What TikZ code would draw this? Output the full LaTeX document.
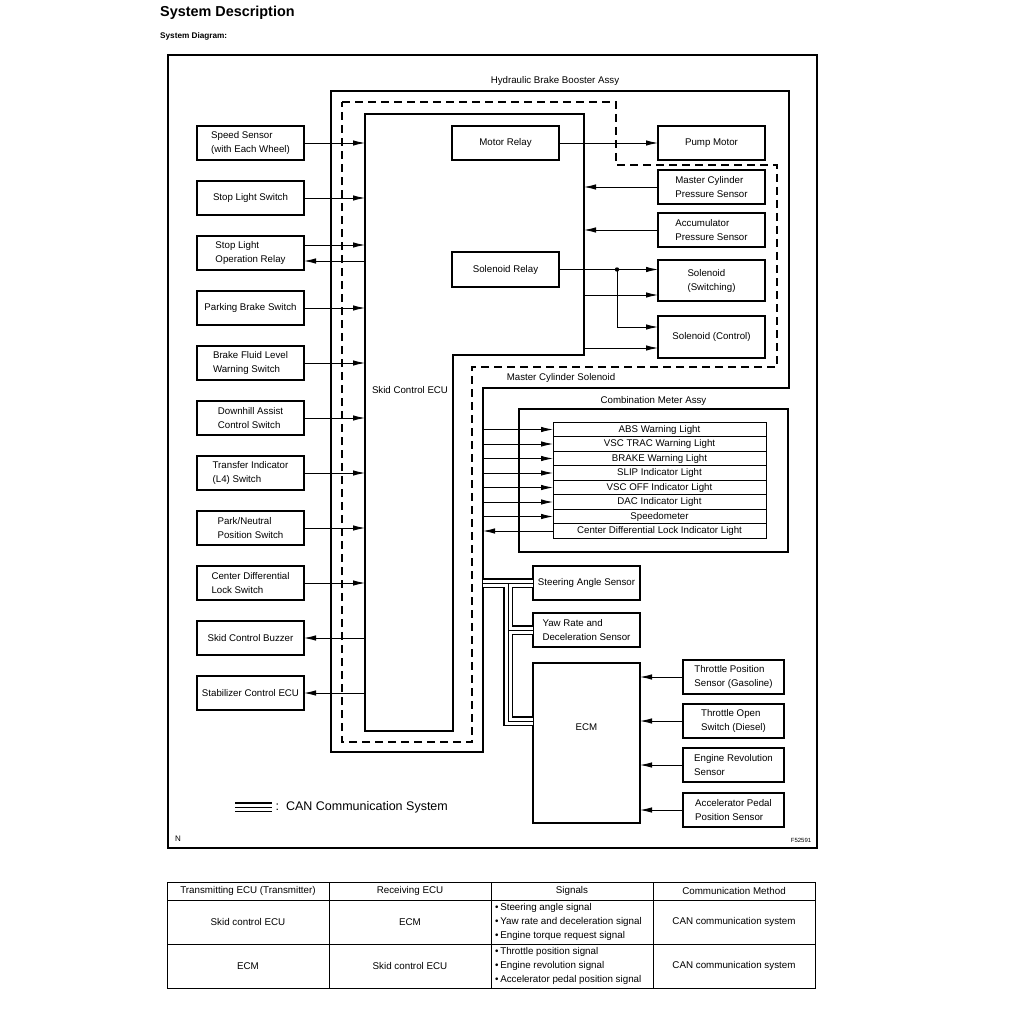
\documentclass[tikz,border=0pt]{standalone}
\usepackage{fontspec}
\setmainfont{Liberation Sans}
\usetikzlibrary{calc, positioning, arrows.meta}

\tikzset{
    box/.style={draw, rectangle, line width=1.5pt, minimum width=107pt, minimum height=34pt, inner sep=2pt, outer sep=0pt, align=left},
    sens/.style={box, minimum width=101pt},
    lamp/.style={draw, rectangle, line width=0.9pt, minimum width=213pt, minimum height=14.5pt, inner sep=0pt, outer sep=0pt},
    sig/.style={->, line width=0.9pt},
    can/.style={line width=10pt, postaction={draw=white, line width=7pt}, postaction={draw=black, line width=1pt}},
    assy/.style={line width=1.8pt},
    ecu/.style={line width=2.2pt},
    grp/.style={line width=1.3pt, dash pattern=on 8pt off 5pt},
    cell/.style={inner sep=0pt, font=\fontsize{9.8}{14}\selectfont, align=left},
}

\begin{document}
\begin{tikzpicture}[x=1pt, y=-1pt, >={Latex[length=12pt,width=5.5pt]}, font=\fontsize{9.7}{14}\selectfont]
    \useasboundingbox (0,0) rectangle (1024,1024);

    \node[anchor=west, inner sep=0pt, font=\bfseries\fontsize{14.4}{17}\selectfont] (title) at (160,13) {System Description};
    \node[anchor=west, inner sep=0pt, font=\bfseries\fontsize{8.2}{10}\selectfont] (sub) at (160,36) {System Diagram:};

    \draw[line width=1.3pt] (168,55) rectangle (817,848);

    \coordinate (hbbL) at (483,388);
    \coordinate (ecuL) at (365,114);
    \coordinate (ecuR) at (584,114);

    \draw[assy] (331,91) -- (789,91) -- (789,388) -- (hbbL) -- (483,752) -- (331,752) -- cycle;
    \draw[grp] (342,102) -- (616,102) -- (616,165) -- (777,165) -- (777,367) -- (472,367) -- (472,742) -- (342,742) -- cycle;
    \draw[ecu] (ecuL) -- (ecuR) -- (584,355) -- (453,355) -- (453,731) -- (365,731) -- cycle;

    \node (HBB) at (555,81) {Hydraulic Brake Booster Assy};
    \node (MCS) at (561,378) {Master Cylinder Solenoid};
    \node (ECU) at (410,390) {Skid Control ECU};

    \node[box] (MR) at (505.5,143) {Motor Relay};
    \node[box, minimum height=35pt] (SR) at (505.5,269.5) {Solenoid Relay};

    \node[box] (PM) at (711.5,143) {Pump Motor};
    \node[box] (MCPS) at (711.5,187) {Master Cylinder\\Pressure Sensor};
    \node[box] (ACC) at (711.5,230) {Accumulator\\Pressure Sensor};
    \node[box, minimum height=41pt] (SOLSW) at (711.5,280.5) {Solenoid\\(Switching)};
    \node[box, minimum height=42pt] (SOLCT) at (711.5,337) {Solenoid (Control)};

    \node[box] (SS) at (250.5,143) {Speed Sensor\\(with Each Wheel)};
    \node[box, below=21pt of SS] (SLS) {Stop Light Switch};
    \node[box, below=21pt of SLS] (SLR) {Stop Light\\Operation Relay};
    \node[box, below=21pt of SLR] (PBS) {Parking Brake Switch};
    \node[box, below=21pt of PBS] (BFL) {Brake Fluid Level\\Warning Switch};
    \node[box, below=21pt of BFL] (DAS) {Downhill Assist\\Control Switch};
    \node[box, below=21pt of DAS] (TIS) {Transfer Indicator\\(L4) Switch};
    \node[box, below=21pt of TIS] (PNP) {Park/Neutral\\Position Switch};
    \node[box, below=21pt of PNP] (CDS) {Center Differential\\Lock Switch};
    \node[box, below=21pt of CDS] (SCB) {Skid Control Buzzer};
    \node[box, below=21pt of SCB] (SCE) {Stabilizer Control ECU};

    \coordinate (R1) at ([yshift=8pt]SLR.east);
    \coordinate (R2) at ([yshift=-8pt]SLR.east);

    \draw[sig] (SS.east) -- (SS.east -| ecuL);
    \draw[sig] (SLS.east) -- (SLS.east -| ecuL);
    \draw[sig] (R1) -- (R1 -| ecuL);
    \draw[sig] (R2 -| ecuL) -- (R2);
    \draw[sig] (PBS.east) -- (PBS.east -| ecuL);
    \draw[sig] (BFL.east) -- (BFL.east -| ecuL);
    \draw[sig] (DAS.east) -- (DAS.east -| ecuL);
    \draw[sig] (TIS.east) -- (TIS.east -| ecuL);
    \draw[sig] (PNP.east) -- (PNP.east -| ecuL);
    \draw[sig] (CDS.east) -- (CDS.east -| ecuL);
    \draw[sig] (SCB.east -| ecuL) -- (SCB.east);
    \draw[sig] (SCE.east -| ecuL) -- (SCE.east);

    \coordinate (J) at ($(SR.east)+(58,0)$);
    \coordinate (J2) at ([yshift=10pt]SOLCT.west);
    \coordinate (S1) at ([yshift=-14.5pt]SOLSW.west);
    \coordinate (S2) at ([yshift=-11pt]SOLCT.west);

    \draw[sig] (MR.east) -- (PM.west);
    \draw[sig] (MCPS.west) -- (MCPS.west -| ecuR);
    \draw[sig] (ACC.west) -- (ACC.west -| ecuR);
    \draw[sig] (SR.east) -- (SR.east -| SOLSW.west);
    \fill (J) circle (2.2pt);
    \draw[sig] (J) |- (J2);
    \draw[sig] (S1 -| ecuR) -- (S1);
    \draw[sig] (S2 -| ecuR) -- (S2);

    \node[draw, line width=1.5pt, minimum width=269pt, minimum height=143pt, outer sep=0pt] (CMA) at (653.5,480.5) {};
    \node[above=0pt of CMA] (CMAT) {Combination Meter Assy};

    \node[lamp] (ABS) at (659.5,429.5) {ABS Warning Light};
    \node[lamp, below=0pt of ABS] (VTR) {VSC TRAC Warning Light};
    \node[lamp, below=0pt of VTR] (BRK) {BRAKE Warning Light};
    \node[lamp, below=0pt of BRK] (SLIP) {SLIP Indicator Light};
    \node[lamp, below=0pt of SLIP] (VOFF) {VSC OFF Indicator Light};
    \node[lamp, below=0pt of VOFF] (DAC) {DAC Indicator Light};
    \node[lamp, below=0pt of DAC] (SPD) {Speedometer};
    \node[lamp, below=0pt of SPD] (CDL) {Center Differential Lock Indicator Light};

    \draw[sig] (ABS.west -| hbbL) -- (ABS.west);
    \draw[sig] (VTR.west -| hbbL) -- (VTR.west);
    \draw[sig] (BRK.west -| hbbL) -- (BRK.west);
    \draw[sig] (SLIP.west -| hbbL) -- (SLIP.west);
    \draw[sig] (VOFF.west -| hbbL) -- (VOFF.west);
    \draw[sig] (DAC.west -| hbbL) -- (DAC.west);
    \draw[sig] (SPD.west -| hbbL) -- (SPD.west);
    \draw[sig] (CDL.west) -- (CDL.west -| hbbL);

    \node[box] (SAS) at (586.5,583) {Steering Angle Sensor};
    \node[box] (YAW) at (586.5,630) {Yaw Rate and\\Deceleration Sensor};
    \node[box, minimum height=160pt, label={[yshift=16pt]center:ECM}] (ECM) at (586.5,743) {};

    \node[sens] (TPS) at (733.5,677) {Throttle Position\\Sensor (Gasoline)};
    \node[sens, below=10pt of TPS] (TOS) {Throttle Open\\Switch (Diesel)};
    \node[sens, below=10pt of TOS] (ERS) {Engine Revolution\\Sensor};
    \node[sens, below=11pt of ERS] (APS) {Accelerator Pedal\\Position Sensor};

    \draw[sig] (TPS.west) -- (TPS.west -| ECM.east);
    \draw[sig] (TOS.west) -- (TOS.west -| ECM.east);
    \draw[sig] (ERS.west) -- (ERS.west -| ECM.east);
    \draw[sig] (APS.west) -- (APS.west -| ECM.east);

    \coordinate (C0) at (hbbL |- SAS.west);
    \coordinate (CT) at ($(SAS.west)+(-25,0)$);
    \coordinate (CE) at ([yshift=22pt]ECM.west);
    \draw[can] (C0) -- (SAS.west) (CT) |- (CE) (CT |- YAW.west) -- (YAW.west);

    \coordinate (L1) at (235,807);
    \coordinate (L2) at (272,807);
    \draw[can] (L1) -- (L2);
    \node[anchor=west, font=\fontsize{12.5}{15}\selectfont] (LT) at (L2) {:\hspace{7pt}CAN Communication System};

    \node[font=\fontsize{8}{9}\selectfont] (N) at (178,839) {N};
    \node[font=\fontsize{6}{7}\selectfont] (FIG) at (801,840) {F52591};

    \draw[line width=1pt] (167,882) rectangle (815,988);
    \draw[line width=1pt] (167,900) -- (815,900) (167,944) -- (815,944) (329,882) -- (329,988) (491,882) -- (491,988) (653,882) -- (653,988);

    \node[cell] (H1) at (248,891) {Transmitting ECU (Transmitter)};
    \node[cell] (H2) at (410,891) {Receiving ECU};
    \node[cell] (H3) at (572,891) {Signals};
    \node[cell] (H4) at (734,891) {Communication Method};

    \node[cell] (A1) at (248,922) {Skid control ECU};
    \node[cell] (A2) at (410,922) {ECM};
    \node[cell, anchor=west] (A3) at (495,922) {\textbullet\,Steering angle signal\\\textbullet\,Yaw rate and deceleration signal\\\textbullet\,Engine torque request signal};
    \node[cell] (A4) at (734,922) {CAN communication system};

    \node[cell] (B1) at (248,966) {ECM};
    \node[cell] (B2) at (410,966) {Skid control ECU};
    \node[cell, anchor=west] (B3) at (495,966) {\textbullet\,Throttle position signal\\\textbullet\,Engine revolution signal\\\textbullet\,Accelerator pedal position signal};
    \node[cell] (B4) at (734,966) {CAN communication system};
\end{tikzpicture}
\end{document}
